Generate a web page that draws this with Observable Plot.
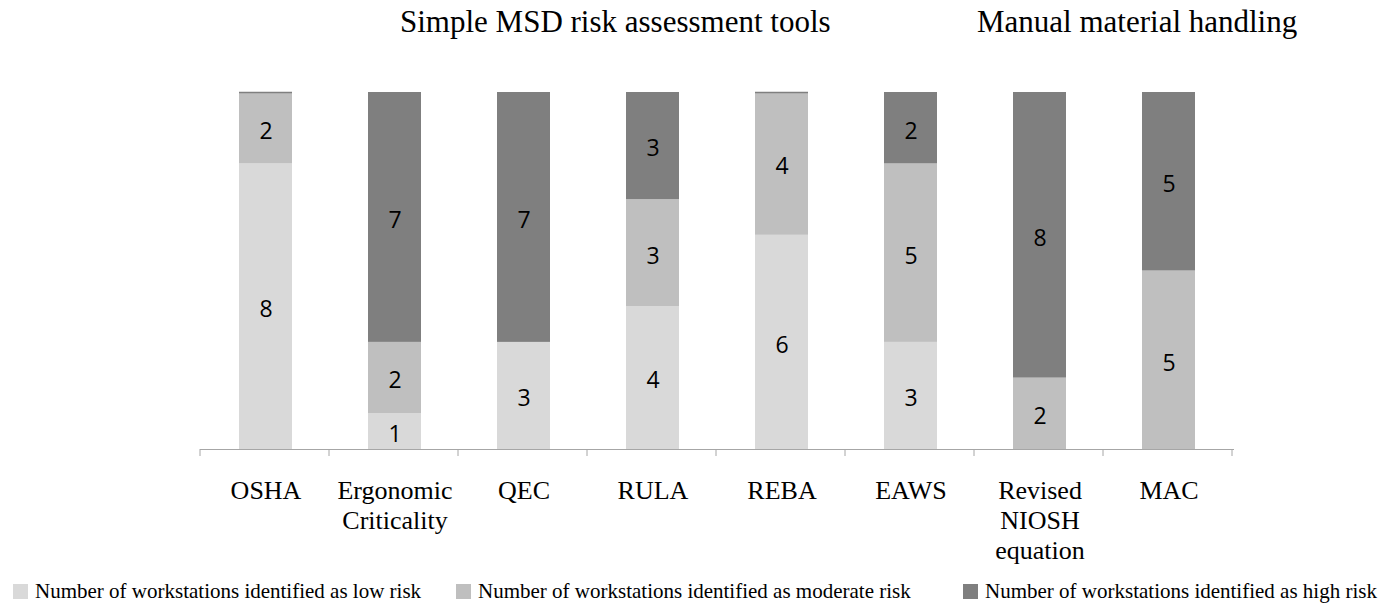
<!DOCTYPE html>
<html><head><meta charset="utf-8">
<script src="https://cdn.jsdelivr.net/npm/d3@7"></script>
<script src="https://cdn.jsdelivr.net/npm/@observablehq/plot@0.6"></script>
<style>
body{margin:0;background:#fff;width:1378px;height:606px;position:relative;overflow:hidden;font-family:"Liberation Serif","Times New Roman",serif;color:#000}
.t{position:absolute;top:7px;font-size:31px;line-height:30px;white-space:nowrap}
#chart{position:absolute;left:0;top:60px}
#legend{position:absolute;top:581px;left:0;width:1378px;height:25px;font-size:21px;line-height:21px}
.sw{position:absolute;width:15px;height:15px;top:3px}
.lt{position:absolute;top:0;white-space:nowrap}
</style>
</head><body>
<div class="t" id="t1" style="left:400px"></div>
<div class="t" id="t2" style="left:977px"></div>
<div id="chart"></div>
<div id="legend"></div>
<script>
const tools = ["OSHA","Ergonomic Criticality","QEC","RULA","REBA","EAWS","Revised NIOSH equation","MAC"];
const tickLabels = ["OSHA","Ergonomic\nCriticality","QEC","RULA","REBA","EAWS","Revised\nNIOSH\nequation","MAC"];
const lowRisk = [8,1,3,4,6,3,0,0];
const moderateRisk = [2,2,0,3,4,5,2,5];
const highRisk = [0,7,7,3,0,2,8,5];
const risks = ["Number of workstations identified as low risk","Number of workstations identified as moderate risk","Number of workstations identified as high risk"];
const colors = ["#d9d9d9","#bfbfbf","#7f7f7f"];
const titles = ["Simple MSD risk assessment tools","Manual material handling"];

document.getElementById("t1").textContent = titles[0];
document.getElementById("t2").textContent = titles[1];

const series = [lowRisk, moderateRisk, highRisk];
const data = [];
tools.forEach((t,i)=>series.forEach((s,k)=>data.push({tool:t, risk:risks[k], value:s[i]})));
const totals = tools.map((t,i)=>({tool:t, total: lowRisk[i]+moderateRisk[i]+highRisk[i], high: highRisk[i]}));
const labelOf = Object.fromEntries(tools.map((t,i)=>[t, tickLabels[i]]));

const W = 1378, H = 510, ML = 200, MR = 144, MT = 32, MB = 121;

const boundaryTicks = (index, scales, values, dimensions) => {
  const x = scales.x;
  const step = x.step ? x.step() : (dimensions.width - dimensions.marginLeft - dimensions.marginRight)/tools.length;
  const x0 = dimensions.marginLeft;
  const y0 = scales.y(0);
  const g = d3.create("svg:g").attr("stroke","#a6a6a6").attr("stroke-width",1);
  for (let i = 0; i <= tools.length; i++) {
    g.append("line").attr("x1", x0 + i*step).attr("x2", x0 + i*step).attr("y1", y0).attr("y2", y0 + 7);
  }
  return g.node();
};

const chart = Plot.plot({
  width: W, height: H,
  marginLeft: ML, marginRight: MR, marginTop: MT, marginBottom: MB,
  style: {background: "#fff", overflow: "visible"},
  x: {type: "band", domain: tools, paddingInner: 0.59, paddingOuter: 0.295, axis: null, label: null},
  y: {domain: [0, 10], axis: null},
  color: {domain: risks, range: colors},
  marks: [
    Plot.barY(data, {x: "tool", y: "value", fill: "risk", order: risks}),
    Plot.tickY(totals.filter(d => d.high === 0), {x: "tool", y: "total", stroke: colors[2], strokeWidth: 1.5}),
    Plot.text(data.filter(d => d.value > 0), Plot.stackY({x: "tool", y: "value", z: "risk", order: risks, text: d => String(d.value), fontSize: 23, fontFamily: "'Open Sans', 'Liberation Sans', sans-serif", fill: "#000", dy: 3})),
    Plot.ruleY([0], {stroke: "#a6a6a6", strokeWidth: 1}),
    boundaryTicks,
    Plot.axisX({label: null, tickSize: 0, tickPadding: 28, fontSize: 26, fontFamily: "'Liberation Serif', 'Times New Roman', serif", lineHeight: 1.15, tickFormat: d => labelOf[d], fill: "#000"})
  ]
});
document.getElementById("chart").appendChild(chart);

const legendPos = [{sw: 13, tx: 35}, {sw: 456, tx: 478}, {sw: 963, tx: 985}];
const lg = document.getElementById("legend");
risks.forEach((r,k)=>{
  const s = document.createElement("div"); s.className = "sw"; s.style.left = legendPos[k].sw + "px"; s.style.background = colors[k]; lg.appendChild(s);
  const t = document.createElement("div"); t.className = "lt"; t.style.left = legendPos[k].tx + "px"; t.textContent = r; lg.appendChild(t);
});
</script>
</body></html>
